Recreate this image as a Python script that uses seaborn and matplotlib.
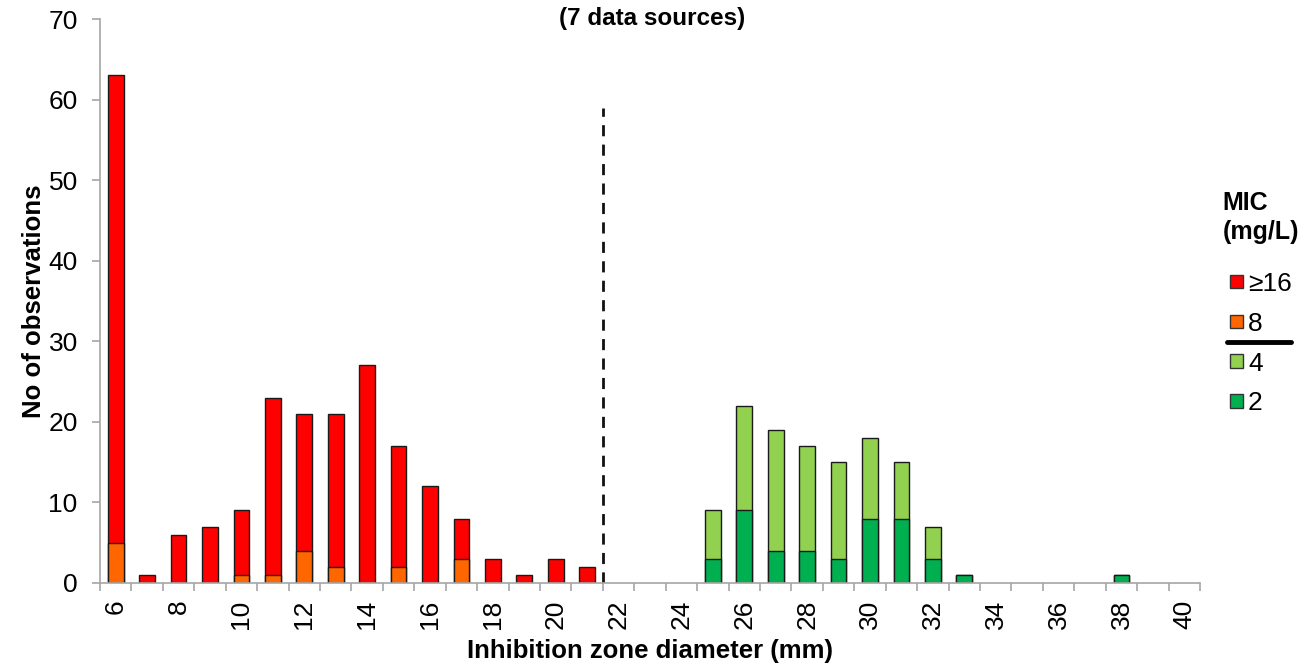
import matplotlib
matplotlib.use("Agg")
import matplotlib.pyplot as plt
import seaborn as sns
import pandas as pd
import numpy as np
from matplotlib.patches import Patch
from matplotlib.lines import Line2D

# ---- data ----
diameters = list(range(6, 41))
mic_ge16 = [58, 1, 6, 7, 8, 22, 17, 19, 27, 15, 12, 5, 3, 1, 3, 2,
            0, 0, 0, 0, 0, 0, 0, 0, 0, 0, 0, 0, 0, 0, 0, 0, 0, 0, 0]
mic_8 = [5, 0, 0, 0, 1, 1, 4, 2, 0, 2, 0, 3, 0, 0, 0, 0,
         0, 0, 0, 0, 0, 0, 0, 0, 0, 0, 0, 0, 0, 0, 0, 0, 0, 0, 0]
mic_4 = [0, 0, 0, 0, 0, 0, 0, 0, 0, 0, 0, 0, 0, 0, 0, 0,
         0, 0, 0, 6, 13, 15, 13, 12, 10, 7, 4, 0, 0, 0, 0, 0, 0, 0, 0]
mic_2 = [0, 0, 0, 0, 0, 0, 0, 0, 0, 0, 0, 0, 0, 0, 0, 0,
         0, 0, 0, 3, 9, 4, 4, 3, 8, 8, 3, 1, 0, 0, 0, 0, 1, 0, 0]
breakpoint_between = ("21", "22")
breakpoint_top = 59
legend_labels = ["\u226516", "8", "4", "2"]
title = "(7 data sources)"

colors = {"ge16": "#FF0000", "8": "#FF6600", "4": "#92D050", "2": "#00B050"}

df = pd.DataFrame({
    "d": [str(d) for d in diameters],
    "ge16": mic_ge16, "m8": mic_8, "m4": mic_4, "m2": mic_2,
})
df["red_total"] = df["ge16"] + df["m8"]
df["green_total"] = df["m4"] + df["m2"]
order = df["d"].tolist()

sns.set_theme(style="white")
plt.rcParams["font.family"] = ["Liberation Sans", "DejaVu Sans"]
for k in ["text.color", "axes.labelcolor", "xtick.color", "ytick.color"]:
    plt.rcParams[k] = "black"

fig = plt.figure(figsize=(13.05, 6.67), dpi=100)
ax = fig.add_axes([0.0766, 0.126, 0.843, 0.8455])

edge = "#1a1a1a"
kw = dict(order=order, width=0.5, edgecolor=edge, linewidth=1.0, ax=ax, saturation=1)
sns.barplot(data=df, x="d", y="red_total", color=colors["ge16"], **kw)
sns.barplot(data=df, x="d", y="m8", color=colors["8"], **kw)
sns.barplot(data=df, x="d", y="green_total", color=colors["4"], **kw)
sns.barplot(data=df, x="d", y="m2", color=colors["2"], **kw)

for p in ax.patches:
    if p.get_height() == 0:
        p.set_visible(False)

n = len(order)
ax.set_xlim(-0.5, n - 0.5)
ax.set_ylim(0, 70)
ax.set_yticks(np.arange(0, 71, 10))

# breakpoint dashed line
xb = (order.index(breakpoint_between[0]) + order.index(breakpoint_between[1])) / 2
ax.vlines(xb, 0, breakpoint_top, colors="#111111", linestyles=(0, (4, 3)), linewidth=2)

# x ticks: labels on even diameters, tick marks at category boundaries
major = [i for i, d in enumerate(diameters) if d % 2 == 0]
ax.set_xticks(major)
ax.set_xticklabels([str(diameters[i]) for i in major], rotation=90, fontsize=19)
ax.set_xticks(np.arange(-0.5, n, 1.0), minor=True)
ax.tick_params(axis="x", which="major", bottom=True, length=0, pad=12, labelcolor="black")
ax.tick_params(axis="x", which="minor", bottom=True, length=5.5, width=1.2,
               color="#A6A6A6", direction="out")
ax.tick_params(axis="y", which="major", left=True, length=6, width=1.2, color="#A6A6A6",
               direction="out", labelsize=19, pad=10, labelcolor="black")

for s in ["top", "right"]:
    ax.spines[s].set_visible(False)
for s in ["left", "bottom"]:
    ax.spines[s].set_color("#A6A6A6")
    ax.spines[s].set_linewidth(1.2)

ax.set_xlabel("Inhibition zone diameter (mm)", fontsize=18.5, fontweight="bold", labelpad=7)
ax.set_ylabel("No of observations", fontsize=18.5, fontweight="bold", labelpad=2)

fig.text(0.5, 0.973, title, ha="center", va="center", fontsize=17.5, fontweight="bold")

handles = [Patch(facecolor=colors[k], edgecolor="#333333", linewidth=1)
           for k in ["ge16", "8", "4", "2"]]
leg = fig.legend(handles, legend_labels, title="MIC\n(mg/L)", loc="upper center",
                 bbox_to_anchor=(0.966, 0.713), frameon=False, fontsize=19,
                 handlelength=0.5, handleheight=0.42, handletextpad=0.2,
                 labelspacing=0.6, borderaxespad=0, borderpad=0,
                 title_fontproperties={"weight": "bold", "size": 18})
leg._legend_box.align = "center"
leg.get_title().set_linespacing(1.25)
leg._legend_box.sep = 20

# separator line between 8 and 4
fig.add_artist(Line2D([0.9405, 0.989], [0.487, 0.487], color="black", linewidth=3.5,
                      transform=fig.transFigure))

fig.savefig("out.png", dpi=100)
